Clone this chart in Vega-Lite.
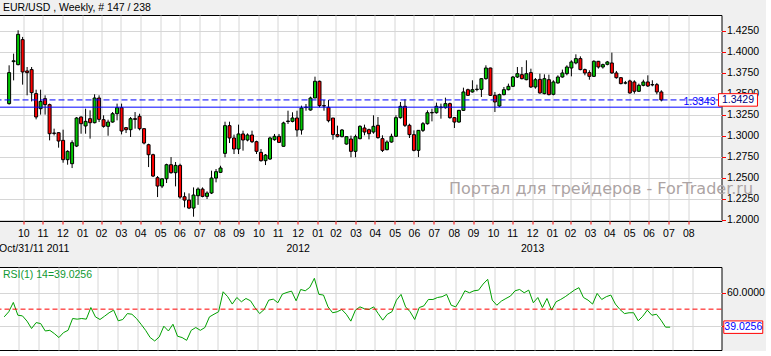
{
"$schema": "https://vega.github.io/schema/vega-lite/v6.json",
"background": "#f0f0f0",
"padding": {"left": -2.5, "top": 2, "right": 0, "bottom": 0},
"spacing": 12,
"resolve": {"scale": {"x": "independent", "y": "independent"}},
"config": {
  "font": "Liberation Sans",
  "view": {"stroke": "black", "strokeWidth": 1, "fill": "white"},
  "axis": {"gridColor": "#d6d6d6", "gridWidth": 1, "labelFont": "Liberation Sans", "labelFontSize": 10.5, "labelColor": "black", "tickColor": "red", "domain": false, "labelOverlap": false, "tickCount": 200}
},
"datasets": {
"candles": [
{"d":"2011-10-09","o":1.3385,"h":1.3841,"l":1.3373,"c":1.3754},
{"d":"2011-10-16","o":1.3885,"h":1.3980,"l":1.3662,"c":1.3895},
{"d":"2011-10-23","o":1.3849,"h":1.4258,"l":1.3841,"c":1.4210},
{"d":"2011-10-30","o":1.4147,"h":1.4179,"l":1.3611,"c":1.3762},
{"d":"2011-11-06","o":1.3774,"h":1.3821,"l":1.3484,"c":1.3754},
{"d":"2011-11-13","o":1.3790,"h":1.3821,"l":1.3412,"c":1.3516},
{"d":"2011-11-20","o":1.3504,"h":1.3551,"l":1.3198,"c":1.3226},
{"d":"2011-11-27","o":1.3325,"h":1.3551,"l":1.3254,"c":1.3412},
{"d":"2011-12-04","o":1.3444,"h":1.3484,"l":1.3254,"c":1.3373},
{"d":"2011-12-11","o":1.3373,"h":1.3385,"l":1.2948,"c":1.3027},
{"d":"2011-12-18","o":1.3035,"h":1.3087,"l":1.3007,"c":1.3031},
{"d":"2011-12-25","o":1.3039,"h":1.3043,"l":1.2861,"c":1.2940},
{"d":"2012-01-01","o":1.2948,"h":1.3075,"l":1.2682,"c":1.2718},
{"d":"2012-01-08","o":1.2718,"h":1.2830,"l":1.2658,"c":1.2817},
{"d":"2012-01-15","o":1.2670,"h":1.2948,"l":1.2618,"c":1.2920},
{"d":"2012-01-22","o":1.2880,"h":1.3226,"l":1.2868,"c":1.3214},
{"d":"2012-01-29","o":1.3226,"h":1.3234,"l":1.3027,"c":1.3146},
{"d":"2012-02-05","o":1.3119,"h":1.3325,"l":1.3027,"c":1.3174},
{"d":"2012-02-12","o":1.3206,"h":1.3305,"l":1.2968,"c":1.3158},
{"d":"2012-02-19","o":1.3158,"h":1.3496,"l":1.3150,"c":1.3452},
{"d":"2012-02-26","o":1.3452,"h":1.3484,"l":1.3166,"c":1.3198},
{"d":"2012-03-04","o":1.3194,"h":1.3246,"l":1.3099,"c":1.3115},
{"d":"2012-03-11","o":1.3115,"h":1.3194,"l":1.3003,"c":1.3166},
{"d":"2012-03-18","o":1.3166,"h":1.3285,"l":1.3158,"c":1.3265},
{"d":"2012-03-25","o":1.3265,"h":1.3385,"l":1.3186,"c":1.3337},
{"d":"2012-04-01","o":1.3337,"h":1.3385,"l":1.3019,"c":1.3059},
{"d":"2012-04-08","o":1.3099,"h":1.3107,"l":1.3035,"c":1.3075},
{"d":"2012-04-15","o":1.3075,"h":1.3226,"l":1.2988,"c":1.3206},
{"d":"2012-04-22","o":1.3206,"h":1.3285,"l":1.3087,"c":1.3198},
{"d":"2012-04-29","o":1.3234,"h":1.3265,"l":1.3067,"c":1.3087},
{"d":"2012-05-06","o":1.3087,"h":1.3090,"l":1.2900,"c":1.2916},
{"d":"2012-05-13","o":1.2896,"h":1.2908,"l":1.2630,"c":1.2777},
{"d":"2012-05-20","o":1.2777,"h":1.2789,"l":1.2511,"c":1.2523},
{"d":"2012-05-27","o":1.2503,"h":1.2523,"l":1.2273,"c":1.2404},
{"d":"2012-06-03","o":1.2404,"h":1.2495,"l":1.2380,"c":1.2491},
{"d":"2012-06-10","o":1.2491,"h":1.2670,"l":1.2440,"c":1.2658},
{"d":"2012-06-17","o":1.2658,"h":1.2749,"l":1.2551,"c":1.2563},
{"d":"2012-06-24","o":1.2563,"h":1.2690,"l":1.2400,"c":1.2650},
{"d":"2012-07-01","o":1.2650,"h":1.2670,"l":1.2253,"c":1.2273},
{"d":"2012-07-08","o":1.2277,"h":1.2329,"l":1.2150,"c":1.2237},
{"d":"2012-07-15","o":1.2237,"h":1.2317,"l":1.2130,"c":1.2142},
{"d":"2012-07-22","o":1.2142,"h":1.2388,"l":1.2039,"c":1.2297},
{"d":"2012-07-29","o":1.2289,"h":1.2388,"l":1.2180,"c":1.2368},
{"d":"2012-08-05","o":1.2368,"h":1.2388,"l":1.2270,"c":1.2281},
{"d":"2012-08-12","o":1.2281,"h":1.2341,"l":1.2250,"c":1.2321},
{"d":"2012-08-19","o":1.2321,"h":1.2587,"l":1.2309,"c":1.2499},
{"d":"2012-08-26","o":1.2499,"h":1.2607,"l":1.2448,"c":1.2575},
{"d":"2012-09-02","o":1.2567,"h":1.2646,"l":1.2559,"c":1.2619},
{"d":"2012-09-09","o":1.2793,"h":1.3170,"l":1.2746,"c":1.3123},
{"d":"2012-09-16","o":1.3123,"h":1.3170,"l":1.2916,"c":1.2976},
{"d":"2012-09-23","o":1.2976,"h":1.3016,"l":1.2785,"c":1.2845},
{"d":"2012-09-30","o":1.2845,"h":1.3135,"l":1.2785,"c":1.3024},
{"d":"2012-10-07","o":1.3024,"h":1.3063,"l":1.2825,"c":1.2952},
{"d":"2012-10-14","o":1.2952,"h":1.3031,"l":1.2936,"c":1.3012},
{"d":"2012-10-21","o":1.3012,"h":1.3063,"l":1.2916,"c":1.2932},
{"d":"2012-10-28","o":1.2932,"h":1.2944,"l":1.2785,"c":1.2817},
{"d":"2012-11-04","o":1.2805,"h":1.2845,"l":1.2694,"c":1.2706},
{"d":"2012-11-11","o":1.2706,"h":1.2785,"l":1.2654,"c":1.2773},
{"d":"2012-11-18","o":1.2726,"h":1.2992,"l":1.2714,"c":1.2976},
{"d":"2012-11-25","o":1.2956,"h":1.3024,"l":1.2944,"c":1.2996},
{"d":"2012-12-02","o":1.2996,"h":1.3024,"l":1.2916,"c":1.2924},
{"d":"2012-12-09","o":1.2877,"h":1.3170,"l":1.2873,"c":1.3155},
{"d":"2012-12-16","o":1.3172,"h":1.3301,"l":1.3143,"c":1.3178},
{"d":"2012-12-23","o":1.3174,"h":1.3282,"l":1.3162,"c":1.3214},
{"d":"2012-12-30","o":1.3214,"h":1.3301,"l":1.2992,"c":1.3071},
{"d":"2013-01-06","o":1.3071,"h":1.3361,"l":1.3016,"c":1.3333},
{"d":"2013-01-13","o":1.3338,"h":1.3381,"l":1.3301,"c":1.3344},
{"d":"2013-01-20","o":1.3309,"h":1.3468,"l":1.3301,"c":1.3452},
{"d":"2013-01-27","o":1.3452,"h":1.3706,"l":1.3452,"c":1.3651},
{"d":"2013-02-03","o":1.3651,"h":1.3659,"l":1.3341,"c":1.3361},
{"d":"2013-02-10","o":1.3361,"h":1.3428,"l":1.3301,"c":1.3357},
{"d":"2013-02-17","o":1.3341,"h":1.3428,"l":1.3162,"c":1.3182},
{"d":"2013-02-24","o":1.3214,"h":1.3214,"l":1.2956,"c":1.3016},
{"d":"2013-03-03","o":1.3016,"h":1.3123,"l":1.2984,"c":1.2992},
{"d":"2013-03-10","o":1.2992,"h":1.3083,"l":1.2984,"c":1.3071},
{"d":"2013-03-17","o":1.2904,"h":1.2996,"l":1.2896,"c":1.2992},
{"d":"2013-03-24","o":1.2964,"h":1.3004,"l":1.2746,"c":1.2817},
{"d":"2013-03-31","o":1.2817,"h":1.3016,"l":1.2746,"c":1.2992},
{"d":"2013-04-07","o":1.2968,"h":1.3127,"l":1.2960,"c":1.3115},
{"d":"2013-04-14","o":1.3095,"h":1.3135,"l":1.3008,"c":1.3047},
{"d":"2013-04-21","o":1.3075,"h":1.3087,"l":1.2960,"c":1.3027},
{"d":"2013-04-28","o":1.3047,"h":1.3246,"l":1.3027,"c":1.3115},
{"d":"2013-05-05","o":1.3127,"h":1.3226,"l":1.2968,"c":1.2980},
{"d":"2013-05-12","o":1.2968,"h":1.3008,"l":1.2809,"c":1.2829},
{"d":"2013-05-19","o":1.2837,"h":1.2948,"l":1.2829,"c":1.2928},
{"d":"2013-05-26","o":1.2928,"h":1.3027,"l":1.2920,"c":1.2996},
{"d":"2013-06-02","o":1.2996,"h":1.3246,"l":1.2988,"c":1.3218},
{"d":"2013-06-09","o":1.3218,"h":1.3405,"l":1.3206,"c":1.3353},
{"d":"2013-06-16","o":1.3353,"h":1.3436,"l":1.3107,"c":1.3127},
{"d":"2013-06-23","o":1.3127,"h":1.3146,"l":1.2976,"c":1.3016},
{"d":"2013-06-30","o":1.3016,"h":1.3067,"l":1.2817,"c":1.2829},
{"d":"2013-07-07","o":1.2829,"h":1.3071,"l":1.2749,"c":1.3067},
{"d":"2013-07-14","o":1.3067,"h":1.3166,"l":1.3047,"c":1.3146},
{"d":"2013-07-21","o":1.3146,"h":1.3305,"l":1.3135,"c":1.3277},
{"d":"2013-07-28","o":1.3275,"h":1.3325,"l":1.3174,"c":1.3280},
{"d":"2013-08-04","o":1.3277,"h":1.3397,"l":1.3266,"c":1.3353},
{"d":"2013-08-11","o":1.3337,"h":1.3385,"l":1.3206,"c":1.3345},
{"d":"2013-08-18","o":1.3337,"h":1.3456,"l":1.3325,"c":1.3385},
{"d":"2013-08-25","o":1.3385,"h":1.3397,"l":1.3206,"c":1.3218},
{"d":"2013-09-01","o":1.3218,"h":1.3226,"l":1.3095,"c":1.3166},
{"d":"2013-09-08","o":1.3166,"h":1.3310,"l":1.3158,"c":1.3305},
{"d":"2013-09-15","o":1.3305,"h":1.3575,"l":1.3297,"c":1.3524},
{"d":"2013-09-22","o":1.3551,"h":1.3563,"l":1.3476,"c":1.3484},
{"d":"2013-09-29","o":1.3524,"h":1.3663,"l":1.3516,"c":1.3551},
{"d":"2013-10-06","o":1.3553,"h":1.3611,"l":1.3532,"c":1.3557},
{"d":"2013-10-13","o":1.3555,"h":1.3690,"l":1.3464,"c":1.3682},
{"d":"2013-10-20","o":1.3682,"h":1.3841,"l":1.3670,"c":1.3809},
{"d":"2013-10-27","o":1.3809,"h":1.3813,"l":1.3476,"c":1.3484},
{"d":"2013-11-03","o":1.3484,"h":1.3524,"l":1.3285,"c":1.3405},
{"d":"2013-11-10","o":1.3357,"h":1.3504,"l":1.3345,"c":1.3492},
{"d":"2013-11-17","o":1.3492,"h":1.3583,"l":1.3484,"c":1.3551},
{"d":"2013-11-24","o":1.3551,"h":1.3623,"l":1.3543,"c":1.3591},
{"d":"2013-12-01","o":1.3591,"h":1.3714,"l":1.3583,"c":1.3702},
{"d":"2013-12-08","o":1.3702,"h":1.3821,"l":1.3690,"c":1.3742},
{"d":"2013-12-15","o":1.3730,"h":1.3821,"l":1.3674,"c":1.3682},
{"d":"2013-12-22","o":1.3670,"h":1.3901,"l":1.3663,"c":1.3742},
{"d":"2013-12-29","o":1.3754,"h":1.3801,"l":1.3571,"c":1.3583},
{"d":"2014-01-05","o":1.3583,"h":1.3690,"l":1.3563,"c":1.3670},
{"d":"2014-01-12","o":1.3674,"h":1.3742,"l":1.3504,"c":1.3512},
{"d":"2014-01-19","o":1.3504,"h":1.3734,"l":1.3496,"c":1.3682},
{"d":"2014-01-26","o":1.3670,"h":1.3730,"l":1.3484,"c":1.3492},
{"d":"2014-02-02","o":1.3496,"h":1.3663,"l":1.3484,"c":1.3643},
{"d":"2014-02-09","o":1.3631,"h":1.3722,"l":1.3623,"c":1.3702},
{"d":"2014-02-16","o":1.3702,"h":1.3790,"l":1.3694,"c":1.3750},
{"d":"2014-02-23","o":1.3742,"h":1.3841,"l":1.3722,"c":1.3821},
{"d":"2014-03-02","o":1.3809,"h":1.3901,"l":1.3710,"c":1.3881},
{"d":"2014-03-09","o":1.3869,"h":1.3972,"l":1.3853,"c":1.3921},
{"d":"2014-03-16","o":1.3921,"h":1.3948,"l":1.3782,"c":1.3790},
{"d":"2014-03-23","o":1.3790,"h":1.3802,"l":1.3722,"c":1.3750},
{"d":"2014-03-30","o":1.3754,"h":1.3782,"l":1.3670,"c":1.3710},
{"d":"2014-04-06","o":1.3710,"h":1.3901,"l":1.3702,"c":1.3889},
{"d":"2014-04-13","o":1.3889,"h":1.3893,"l":1.3802,"c":1.3821},
{"d":"2014-04-20","o":1.3821,"h":1.3861,"l":1.3802,"c":1.3849},
{"d":"2014-04-27","o":1.3853,"h":1.3893,"l":1.3841,"c":1.3881},
{"d":"2014-05-04","o":1.3869,"h":1.3992,"l":1.3742,"c":1.3750},
{"d":"2014-05-11","o":1.3750,"h":1.3774,"l":1.3682,"c":1.3694},
{"d":"2014-05-18","o":1.3694,"h":1.3700,"l":1.3615,"c":1.3623},
{"d":"2014-05-25","o":1.3629,"h":1.3655,"l":1.3615,"c":1.3633},
{"d":"2014-06-01","o":1.3655,"h":1.3670,"l":1.3504,"c":1.3512},
{"d":"2014-06-08","o":1.3643,"h":1.3663,"l":1.3504,"c":1.3532},
{"d":"2014-06-15","o":1.3532,"h":1.3623,"l":1.3524,"c":1.3603},
{"d":"2014-06-22","o":1.3603,"h":1.3670,"l":1.3591,"c":1.3643},
{"d":"2014-06-29","o":1.3643,"h":1.3722,"l":1.3583,"c":1.3595},
{"d":"2014-07-06","o":1.3608,"h":1.3663,"l":1.3591,"c":1.3612},
{"d":"2014-07-13","o":1.3611,"h":1.3631,"l":1.3496,"c":1.3524},
{"d":"2014-07-20","o":1.3524,"h":1.3544,"l":1.3412,"c":1.3429}
],
"rsi": [
{"d":"2011-10-09","v":45.3},{"d":"2011-10-16","v":48.4},{"d":"2011-10-23","v":54.1},{"d":"2011-10-30","v":46.3},
{"d":"2011-11-06","v":45.9},{"d":"2011-11-13","v":42.7},{"d":"2011-11-20","v":38.2},{"d":"2011-11-27","v":41.8},
{"d":"2011-12-04","v":41.2},{"d":"2011-12-11","v":36.7},{"d":"2011-12-18","v":37.1},{"d":"2011-12-25","v":35.1},
{"d":"2012-01-01","v":32.7},{"d":"2012-01-08","v":35.7},{"d":"2012-01-15","v":37.1},{"d":"2012-01-22","v":44.3},
{"d":"2012-01-29","v":43.9},{"d":"2012-02-05","v":44.3},{"d":"2012-02-12","v":43.9},{"d":"2012-02-19","v":51.0},
{"d":"2012-02-26","v":45.3},{"d":"2012-03-04","v":43.7},{"d":"2012-03-11","v":45.7},{"d":"2012-03-18","v":47.8},
{"d":"2012-03-25","v":49.4},{"d":"2012-04-01","v":42.9},{"d":"2012-04-08","v":43.7},{"d":"2012-04-15","v":47.3},
{"d":"2012-04-22","v":46.9},{"d":"2012-04-29","v":44.3},{"d":"2012-05-06","v":40.8},{"d":"2012-05-13","v":37.1},
{"d":"2012-05-20","v":32.7},{"d":"2012-05-27","v":30.6},{"d":"2012-06-03","v":33.1},{"d":"2012-06-10","v":39.6},
{"d":"2012-06-17","v":36.7},{"d":"2012-06-24","v":40.8},{"d":"2012-07-01","v":33.5},{"d":"2012-07-08","v":32.7},
{"d":"2012-07-15","v":31.0},{"d":"2012-07-22","v":37.1},{"d":"2012-07-29","v":38.8},{"d":"2012-08-05","v":37.1},
{"d":"2012-08-12","v":38.8},{"d":"2012-08-19","v":45.3},{"d":"2012-08-26","v":46.9},{"d":"2012-09-02","v":48.4},
{"d":"2012-09-09","v":60.6},{"d":"2012-09-16","v":57.6},{"d":"2012-09-23","v":53.1},{"d":"2012-09-30","v":57.1},
{"d":"2012-10-07","v":54.5},{"d":"2012-10-14","v":56.5},{"d":"2012-10-21","v":55.1},{"d":"2012-10-28","v":50.8},
{"d":"2012-11-04","v":47.3},{"d":"2012-11-11","v":49.8},{"d":"2012-11-18","v":55.5},{"d":"2012-11-25","v":56.1},
{"d":"2012-12-02","v":53.9},{"d":"2012-12-09","v":59.2},{"d":"2012-12-16","v":60.2},{"d":"2012-12-23","v":61.0},
{"d":"2012-12-30","v":55.1},{"d":"2013-01-06","v":62.0},{"d":"2013-01-13","v":61.2},{"d":"2013-01-20","v":63.3},
{"d":"2013-01-27","v":68.8},{"d":"2013-02-03","v":59.0},{"d":"2013-02-10","v":58.6},{"d":"2013-02-17","v":51.4},
{"d":"2013-02-24","v":47.8},{"d":"2013-03-03","v":48.4},{"d":"2013-03-10","v":49.8},{"d":"2013-03-17","v":46.9},
{"d":"2013-03-24","v":42.7},{"d":"2013-03-31","v":49.4},{"d":"2013-04-07","v":51.4},{"d":"2013-04-14","v":50.2},
{"d":"2013-04-21","v":49.8},{"d":"2013-04-28","v":51.4},{"d":"2013-05-05","v":47.3},{"d":"2013-05-12","v":43.3},
{"d":"2013-05-19","v":46.9},{"d":"2013-05-26","v":48.4},{"d":"2013-06-02","v":55.5},{"d":"2013-06-09","v":59.0},
{"d":"2013-06-16","v":51.4},{"d":"2013-06-23","v":48.4},{"d":"2013-06-30","v":43.7},{"d":"2013-07-07","v":51.0},
{"d":"2013-07-14","v":52.0},{"d":"2013-07-21","v":55.9},{"d":"2013-07-28","v":55.9},{"d":"2013-08-04","v":57.1},
{"d":"2013-08-11","v":57.6},{"d":"2013-08-18","v":59.0},{"d":"2013-08-25","v":52.4},{"d":"2013-09-01","v":51.4},
{"d":"2013-09-08","v":55.9},{"d":"2013-09-15","v":61.2},{"d":"2013-09-22","v":60.0},{"d":"2013-09-29","v":61.2},
{"d":"2013-10-06","v":61.6},{"d":"2013-10-13","v":65.3},{"d":"2013-10-20","v":68.2},{"d":"2013-10-27","v":55.5},
{"d":"2013-11-03","v":52.4},{"d":"2013-11-10","v":54.9},{"d":"2013-11-17","v":56.5},{"d":"2013-11-24","v":58.0},
{"d":"2013-12-01","v":61.2},{"d":"2013-12-08","v":62.0},{"d":"2013-12-15","v":60.0},{"d":"2013-12-22","v":61.6},
{"d":"2013-12-29","v":53.9},{"d":"2014-01-05","v":57.1},{"d":"2014-01-12","v":51.0},{"d":"2014-01-19","v":56.5},
{"d":"2014-01-26","v":49.4},{"d":"2014-02-02","v":54.5},{"d":"2014-02-09","v":55.9},{"d":"2014-02-16","v":57.6},
{"d":"2014-02-23","v":59.6},{"d":"2014-03-02","v":61.6},{"d":"2014-03-09","v":63.1},{"d":"2014-03-16","v":57.1},
{"d":"2014-03-23","v":55.5},{"d":"2014-03-30","v":53.1},{"d":"2014-04-06","v":59.6},{"d":"2014-04-13","v":55.9},
{"d":"2014-04-20","v":57.6},{"d":"2014-04-27","v":58.6},{"d":"2014-05-04","v":53.1},{"d":"2014-05-11","v":49.8},
{"d":"2014-05-18","v":47.3},{"d":"2014-05-25","v":47.8},{"d":"2014-06-01","v":47.8},{"d":"2014-06-08","v":42.9},
{"d":"2014-06-15","v":45.7},{"d":"2014-06-22","v":49.4},{"d":"2014-06-29","v":46.3},{"d":"2014-07-06","v":46.9},
{"d":"2014-07-13","v":43.3},{"d":"2014-07-20","v":39.0256},{"d":"2014-07-27","v":39.0256}
]
},
"vconcat": [
{
  "width": 723, "height": 206,
  "title": {"text": "EUR/USD , Weekly, # 147 / 238", "anchor": "start", "fontSize": 10.5, "fontWeight": "normal", "color": "black", "offset": 2, "dx": 5, "font": "Liberation Sans"},
  "layer": [
    {
      "data": {"name": "candles"},
      "mark": {"type": "rule", "color": "black", "strokeWidth": 1},
      "encoding": {
        "x": {"field": "d", "type": "temporal",
          "scale": {"domain": [{"year":2011,"month":9,"date":30,"hours":6},{"year":2014,"month":10,"date":13,"hours":20}]},
          "axis": {"values": [{"year":2011,"month":10,"date":31},{"year":2011,"month":11,"date":30},{"year":2011,"month":12,"date":31},{"year":2012,"month":1,"date":31},{"year":2012,"month":2,"date":29},{"year":2012,"month":3,"date":31},{"year":2012,"month":4,"date":30},{"year":2012,"month":5,"date":31},{"year":2012,"month":6,"date":30},{"year":2012,"month":7,"date":31},{"year":2012,"month":8,"date":31},{"year":2012,"month":9,"date":30},{"year":2012,"month":10,"date":31},{"year":2012,"month":11,"date":30},{"year":2012,"month":12,"date":31},{"year":2013,"month":1,"date":31},{"year":2013,"month":2,"date":28},{"year":2013,"month":3,"date":31},{"year":2013,"month":4,"date":30},{"year":2013,"month":5,"date":31},{"year":2013,"month":6,"date":30},{"year":2013,"month":7,"date":31},{"year":2013,"month":8,"date":31},{"year":2013,"month":9,"date":30},{"year":2013,"month":10,"date":31},{"year":2013,"month":11,"date":30},{"year":2013,"month":12,"date":31},{"year":2014,"month":1,"date":31},{"year":2014,"month":2,"date":28},{"year":2014,"month":3,"date":31},{"year":2014,"month":4,"date":30},{"year":2014,"month":5,"date":31},{"year":2014,"month":6,"date":30},{"year":2014,"month":7,"date":31},{"year":2014,"month":8,"date":31}],
            "tickCount": 200, "format": "%m", "grid": true, "tickSize": 3, "labelPadding": 4, "labelLineHeight": 15, "labelOverlap": false,
            "labelExpr": "month(datum.value) == 11 && year(datum.value) >= 2012 ? [datum.label, '' + year(datum.value)] : datum.label",
            "title": "Oct/31/11 2011", "titleAnchor": "start", "titleAlign": "left", "titleBaseline": "middle", "titleX": 0, "titleY": 27,
            "titleFont": "Liberation Sans", "titleFontSize": 10.5, "titleFontWeight": "normal", "titleColor": "black"}},
        "y": {"field": "l", "type": "quantitative",
          "scale": {"domain": [1.1988, 1.444], "nice": false, "zero": false},
          "axis": {"orient": "right", "values": [1.2, 1.225, 1.25, 1.275, 1.3, 1.325, 1.35, 1.375, 1.4, 1.425], "tickCount": 200, "format": ".4f", "grid": true, "tickSize": 4, "labelPadding": 1, "labelOverlap": false, "title": null}},
        "y2": {"field": "h"}
      }
    },
    {
      "data": {"name": "candles"},
      "mark": {"type": "bar", "width": 3, "stroke": "black", "strokeWidth": 1},
      "encoding": {
        "x": {"field": "d", "type": "temporal"},
        "y": {"field": "o", "type": "quantitative"},
        "y2": {"field": "c"},
        "fill": {"condition": {"test": "datum.c >= datum.o", "value": "#00c800"}, "value": "#ff0000"}
      }
    },
    {
      "data": {"values": [{"price": 1.3429}]},
      "mark": {"type": "rule", "color": "#0000ff", "strokeWidth": 1, "strokeDash": [6, 3]},
      "encoding": {"y": {"field": "price", "type": "quantitative"}}
    },
    {
      "data": {"values": [{"price": 1.3343}]},
      "mark": {"type": "rule", "color": "#0000ff", "strokeWidth": 1},
      "encoding": {"y": {"field": "price", "type": "quantitative"}}
    },
    {
      "data": {"values": [{"price": 1.3343}]},
      "mark": {"type": "text", "align": "right", "baseline": "alphabetic", "dy": -2, "dx": -1, "fontSize": 10.5, "color": "#0000ff", "font": "Liberation Sans"},
      "encoding": {
        "x": {"datum": {"year":2014,"month":10,"date":13,"hours":20}, "type": "temporal"},
        "y": {"field": "price", "type": "quantitative"},
        "text": {"field": "price", "type": "quantitative", "format": ".4f"}
      }
    },
    {
      "data": {"values": [{"t": "Портал для трейдеров - ForTrader.ru"}]},
      "mark": {"type": "text", "align": "left", "baseline": "alphabetic", "fontSize": 16, "color": "#aca4a4", "font": "DejaVu Sans"},
      "encoding": {
        "x": {"datum": {"year":2013,"month":8,"date":23,"hours":12}, "type": "temporal"},
        "y": {"datum": 1.2306, "type": "quantitative"},
        "text": {"field": "t"}
      }
    },
    {
      "data": {"values": [{"price": 1.3429}]},
      "mark": {"type": "point", "shape": "M-3.12,-1H3.12V1H-3.12Z", "size": 156, "filled": true, "fill": "white", "stroke": "red", "strokeWidth": 1, "opacity": 1},
      "encoding": {
        "x": {"datum": {"year":2014,"month":11,"date":16,"hours":6}, "type": "temporal"},
        "y": {"field": "price", "type": "quantitative"}
      }
    },
    {
      "data": {"values": [{"price": 1.3429}]},
      "mark": {"type": "text", "align": "center", "baseline": "middle", "fontSize": 10.5, "color": "#000080", "font": "Liberation Sans"},
      "encoding": {
        "x": {"datum": {"year":2014,"month":11,"date":16,"hours":6}, "type": "temporal"},
        "y": {"field": "price", "type": "quantitative"},
        "text": {"field": "price", "type": "quantitative", "format": ".4f"}
      }
    }
  ]
},
{
  "width": 723, "height": 83,
  "title": {"text": "RSI(1) 14=39.0256", "anchor": "start", "fontSize": 10.5, "fontWeight": "normal", "color": "#119933", "offset": -13, "dx": 5, "font": "Liberation Sans"},
  "layer": [
    {
      "data": {"name": "rsi"},
      "mark": {"type": "line", "color": "#00a000", "strokeWidth": 1},
      "encoding": {
        "x": {"field": "d", "type": "temporal",
          "scale": {"domain": [{"year":2011,"month":9,"date":30,"hours":6},{"year":2014,"month":10,"date":13,"hours":20}]},
          "axis": {"values": [{"year":2011,"month":10,"date":31},{"year":2011,"month":11,"date":30},{"year":2011,"month":12,"date":31},{"year":2012,"month":1,"date":31},{"year":2012,"month":2,"date":29},{"year":2012,"month":3,"date":31},{"year":2012,"month":4,"date":30},{"year":2012,"month":5,"date":31},{"year":2012,"month":6,"date":30},{"year":2012,"month":7,"date":31},{"year":2012,"month":8,"date":31},{"year":2012,"month":9,"date":30},{"year":2012,"month":10,"date":31},{"year":2012,"month":11,"date":30},{"year":2012,"month":12,"date":31},{"year":2013,"month":1,"date":31},{"year":2013,"month":2,"date":28},{"year":2013,"month":3,"date":31},{"year":2013,"month":4,"date":30},{"year":2013,"month":5,"date":31},{"year":2013,"month":6,"date":30},{"year":2013,"month":7,"date":31},{"year":2013,"month":8,"date":31},{"year":2013,"month":9,"date":30},{"year":2013,"month":10,"date":31},{"year":2013,"month":11,"date":30},{"year":2013,"month":12,"date":31},{"year":2014,"month":1,"date":31},{"year":2014,"month":2,"date":28},{"year":2014,"month":3,"date":31},{"year":2014,"month":4,"date":30},{"year":2014,"month":5,"date":31},{"year":2014,"month":6,"date":30},{"year":2014,"month":7,"date":31},{"year":2014,"month":8,"date":31}],
            "tickCount": 200, "grid": true, "labels": false, "ticks": false, "title": null}},
        "y": {"field": "v", "type": "quantitative",
          "scale": {"domain": [25.1, 75.7], "nice": false, "zero": false},
          "axis": {"orient": "right", "values": [40, 60], "tickCount": 200, "format": ".4f", "labelExpr": "datum.value == 40 ? '' : datum.label", "grid": true, "tickSize": 4, "labelPadding": 1, "labelOverlap": false, "title": null}}
      }
    },
    {
      "data": {"values": [{"level": 50}]},
      "mark": {"type": "rule", "color": "#ff0000", "strokeWidth": 1, "strokeDash": [5, 3]},
      "encoding": {"y": {"field": "level", "type": "quantitative"}}
    },
    {
      "data": {"values": [{"v": 39.0256}]},
      "mark": {"type": "point", "shape": "M-3.12,-1H3.12V1H-3.12Z", "size": 156, "filled": true, "fill": "white", "stroke": "red", "strokeWidth": 1, "opacity": 1},
      "encoding": {
        "x": {"datum": {"year":2014,"month":11,"date":16,"hours":6}, "type": "temporal"},
        "y": {"field": "v", "type": "quantitative"}
      }
    },
    {
      "data": {"values": [{"v": 39.0256}]},
      "mark": {"type": "text", "align": "center", "baseline": "middle", "fontSize": 10.5, "color": "#0000ff", "font": "Liberation Sans"},
      "encoding": {
        "x": {"datum": {"year":2014,"month":11,"date":16,"hours":6}, "type": "temporal"},
        "y": {"field": "v", "type": "quantitative"},
        "text": {"field": "v", "type": "quantitative", "format": ".4f"}
      }
    }
  ]
}
]
}
